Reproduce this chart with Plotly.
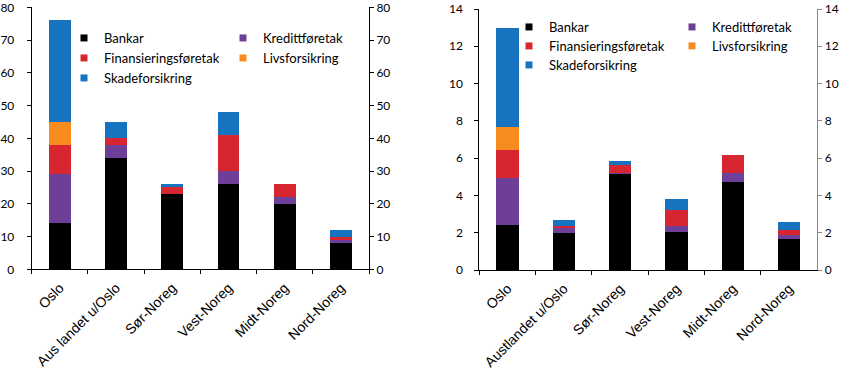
import plotly.graph_objects as go

# ---------------- data ----------------
series_names = ["Bankar", "Kredittføretak", "Finansieringsføretak", "Livsforsikring", "Skadeforsikring"]
series_colors = ["#000000", "#6D3F98", "#D7262F", "#F68B1F", "#1673BF"]

categories_left = ["Oslo", "Aus landet u/Oslo", "Sør-Noreg", "Vest-Noreg", "Midt-Noreg", "Nord-Noreg"]
bankar_left = [14, 34, 23, 26, 20, 8]
kreditt_left = [15, 4, 0, 4, 2, 1]
finans_left = [9, 2, 2, 11, 4, 1]
livs_left = [7, 0, 0, 0, 0, 0]
skade_left = [31, 5, 1, 7, 0, 2]

categories_right = ["Oslo", "Austlandet u/Oslo", "Sør-Noreg", "Vest-Noreg", "Midt-Noreg", "Nord-Noreg"]
bankar_right = [2.4, 2.0, 5.15, 2.04, 4.72, 1.68]
kreditt_right = [2.55, 0.27, 0.03, 0.32, 0.48, 0.22]
finans_right = [1.5, 0.11, 0.43, 0.88, 0.97, 0.25]
livs_right = [1.22, 0, 0, 0, 0, 0]
skade_right = [5.3, 0.28, 0.23, 0.55, 0, 0.44]

left_ticks = [0, 10, 20, 30, 40, 50, 60, 70, 80]
right_ticks = [0, 2, 4, 6, 8, 10, 12, 14]

values_left = [bankar_left, kreditt_left, finans_left, livs_left, skade_left]
values_right = [bankar_right, kreditt_right, finans_right, livs_right, skade_right]

W, H = 850, 379

def px_x(p):
    return p / W

def px_y(p):
    return 1 - p / H

# legend layout: (column text x, row y) per series, for each panel
legend_pos_left = [(104, 38), (263, 38), (104, 58), (263, 58), (104, 78)]
legend_pos_right = [(549, 27), (712, 27), (549, 46), (712, 46), (549, 65)]
TEXT_OFFSET = 40  # distance from legend x to start of its text

fig = go.Figure()

legend_layouts = {}
legend_common = dict(orientation="h", xanchor="left", yanchor="middle", bgcolor="rgba(0,0,0,0)",
                     font=dict(family="Lato", size=13, color="#000"),
                     traceorder="normal", itemclick=False, itemdoubleclick=False)

idx = 0
for panel, (cats, vals_list, positions, width, xa, ya) in enumerate([
        (categories_left, values_left, legend_pos_left, 0.39, "x", "y"),
        (categories_right, values_right, legend_pos_right, 0.4, "x2", "y2")]):
    for name, color, vals, (tx, ty) in zip(series_names, series_colors, vals_list, positions):
        idx += 1
        lname = "legend" if idx == 1 else f"legend{idx}"
        fig.add_trace(go.Bar(x=cats, y=vals, name=name,
                             marker=dict(color=color, line=dict(width=0)),
                             xaxis=xa, yaxis=ya, showlegend=False, width=width))
        # legend key (small square, as in the original legend)
        fig.add_trace(go.Scatter(x=[None], y=[None], name=name, mode="markers",
                                 marker=dict(symbol="square", size=7, color=color),
                                 xaxis=xa, yaxis=ya, legend=lname, showlegend=True, hoverinfo="skip"))
        legend_layouts[lname] = dict(x=px_x(tx - TEXT_OFFSET), y=px_y(ty), **legend_common)

# empty helper traces so that the mirrored right-hand value axes are drawn
fig.add_trace(go.Scatter(x=categories_left, y=[None] * len(categories_left), xaxis="x", yaxis="y3",
                         showlegend=False, hoverinfo="skip", mode="markers"))
fig.add_trace(go.Scatter(x=categories_right, y=[None] * len(categories_right), xaxis="x2", yaxis="y4",
                         showlegend=False, hoverinfo="skip", mode="markers"))

tick_font = dict(family="Lato", size=12, color="#000000")
cat_font = dict(family="Liberation Sans", size=14, color="#000000")

left_dom_x = [px_x(31.7), px_x(369)]
right_dom_x = [px_x(479.3), px_x(817.3)]
left_dom_y = [px_y(269.3), px_y(7.3)]
right_dom_y = [px_y(270), px_y(9)]

xcommon = dict(type="category", tickson="boundaries", ticks="outside", ticklen=4, tickcolor="#000",
               showline=True, linecolor="#000", linewidth=1, tickangle=-45, tickfont=cat_font,
               showgrid=False, automargin=False, fixedrange=True, ticklabeloverflow="allow",
               ticklabelstandoff=4)
ycommon = dict(ticks="outside", ticklen=4, tickcolor="#000", showline=True, linecolor="#000", linewidth=1,
               tickfont=tick_font, showgrid=False, zeroline=False, automargin=False,
               ticklabeloverflow="allow", fixedrange=True)

fig.update_layout(
    width=W, height=H,
    margin=dict(l=0, r=0, t=0, b=0),
    paper_bgcolor="white", plot_bgcolor="white",
    barmode="stack", showlegend=True,
    xaxis=dict(domain=left_dom_x, anchor="y", **xcommon),
    xaxis2=dict(domain=right_dom_x, anchor="y2", **xcommon),
    yaxis=dict(domain=left_dom_y, anchor="x", range=[0, 80], tickvals=left_ticks, side="left",
               ticklabelstandoff=10, **ycommon),
    yaxis2=dict(domain=right_dom_y, anchor="x2", range=[0, 14], tickvals=right_ticks, side="left",
                ticklabelstandoff=9, **ycommon),
    yaxis3=dict(overlaying="y", anchor="x", side="right", range=[0, 80], tickvals=left_ticks, **ycommon),
    yaxis4=dict(overlaying="y2", anchor="x2", side="right", range=[0, 14], tickvals=right_ticks,
                **{**ycommon, "linecolor": "#888", "tickcolor": "#888"}),
    **legend_layouts,
)

fig.write_html("out.html", config={"displayModeBar": False},
               post_script="document.body.style.margin='0';")
